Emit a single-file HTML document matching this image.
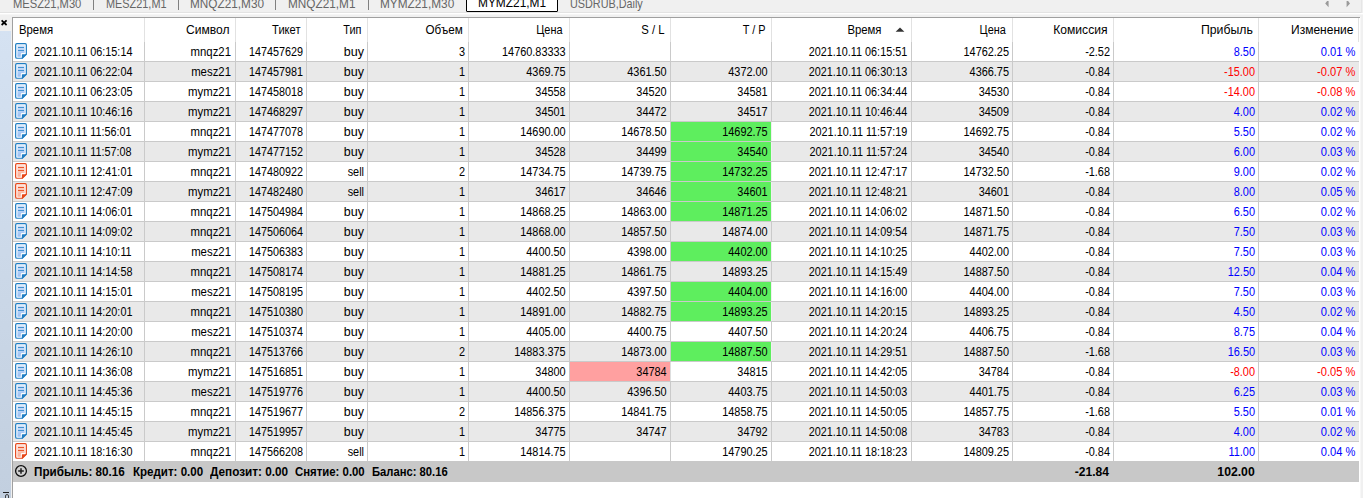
<!DOCTYPE html><html><head><meta charset="utf-8"><title>History</title><style>
html,body{margin:0;padding:0}
body{width:1363px;height:498px;overflow:hidden;background:#f0f0f0;position:relative;font-family:"Liberation Sans",sans-serif;font-size:12.5px;color:#000}
div,span{position:absolute;box-sizing:border-box;white-space:pre}
.tab{top:-3.8px;height:16px;line-height:16px;font-size:12.9px;color:#666;transform-origin:0 50%}
.tsep{top:0;width:1px;height:10px;background:#808080}
.row{left:13px;width:1346px;height:19px}
.c{top:0.5px;height:19px;line-height:19px;text-align:right;transform-origin:100% 50%}
.h{top:18.7px;height:23px;line-height:23px;text-align:right;transform-origin:100% 50%}
.l{text-align:left;transform-origin:0 50%}
.vl{top:42px;width:1px;height:419px;background:#cacaca}
.hl{left:13px;width:1346px;height:1px;background:#cacaca}
.hs{top:18px;width:1px;height:24px;background:#e2e2e2}
.ic{position:absolute;left:1px;top:0}
.sm{top:461.6px;height:21px;line-height:21px;font-weight:bold}
.b{color:#0000ff}.r{color:#ff0000}

</style></head><body>
<div style="left:0;top:12px;width:1362px;height:1px;background:#e3e3e3"></div>
<div style="left:0;top:13px;width:1363px;height:1px;background:#ffffff"></div>
<div style="left:0;top:14px;width:1363px;height:1px;background:#f6f6f6"></div>
<div style="left:1361px;top:0;width:1px;height:13px;background:#e6e6e6"></div>
<span class="tab" style="left:13.2px;transform:scaleX(0.867)">MESZ21,M30</span>
<span class="tab" style="left:105.7px;transform:scaleX(0.845)">MESZ21,M1</span>
<span class="tab" style="left:190.2px;transform:scaleX(0.914)">MNQZ21,M30</span>
<span class="tab" style="left:288.4px;transform:scaleX(0.915)">MNQZ21,M1</span>
<span class="tab" style="left:380.2px;transform:scaleX(0.917)">MYMZ21,M30</span>
<span class="tab" style="left:570.2px;transform:scaleX(0.839)">USDRUB,Daily</span>
<div class="tsep" style="left:93px"></div>
<div class="tsep" style="left:178px"></div>
<div class="tsep" style="left:275px"></div>
<div class="tsep" style="left:368px"></div>
<div style="left:466px;top:-4px;width:92px;height:16px;background:#fff;border:1.4px solid #000;border-radius:1px"></div>
<span class="tab" style="left:477.8px;top:-4.6px;color:#000;transform:scaleX(0.923)">MYMZ21,M1</span>
<svg style="position:absolute;left:1324.4px;top:0.5px" width="30" height="7" viewBox="0 0 30 7"><path d="M4.6 -2 L1.2 2.5 L4.6 6.2 Z M22.6 -2 L26 2.5 L22.6 6.2 Z" fill="#9a9a9a"/></svg>
<div style="left:0;top:31px;width:11px;height:467px;background:linear-gradient(#d5e2f2,#c2cfdf)"></div>
<svg style="position:absolute;left:0;top:18px" width="10" height="10" viewBox="0 0 10 10"><path d="M1.6 2.4 L6.6 7 M6.6 2.4 L1.6 7" stroke="#000" stroke-width="1.7" fill="none"/></svg>
<div style="left:3px;top:492px;width:6px;height:1px;background:#222"></div>
<div style="left:5px;top:494px;width:4px;height:8px;border:1px solid #444;border-radius:2px 2px 0 0"></div>
<div style="left:12px;top:17px;width:1349px;height:481px;background:#a0a0a0"></div>
<div style="left:13px;top:18px;width:1347px;height:480px;background:#fff"></div>
<div style="left:1360px;top:17px;width:1px;height:481px;background:#f7f7f7"></div>
<span class="h l" style="left:19.3px;transform:scaleX(0.9069)">Время</span>
<span class="h" style="left:145px;width:84.5px;transform:scaleX(0.9662)">Символ</span>
<span class="h" style="left:236px;width:64.5px;transform:scaleX(0.8894)">Тикет</span>
<span class="h" style="left:307px;width:54.5px;transform:scaleX(0.8720)">Тип</span>
<span class="h" style="left:368px;width:94.7px;transform:scaleX(0.9330)">Объем</span>
<span class="h" style="left:469px;width:93.5px;transform:scaleX(0.8720)">Цена</span>
<span class="h" style="left:570px;width:94.7px;transform:scaleX(0.9069)">S / L</span>
<span class="h" style="left:671px;width:94.6px;transform:scaleX(0.8720)">T / P</span>
<span class="h" style="left:772px;width:109.5px;transform:scaleX(0.9069)">Время</span>
<svg style="position:absolute;left:895px;top:26px" width="10" height="7" viewBox="0 0 10 7"><path d="M0.6 5.7 L5 1.4 L9.4 5.7 Z" fill="#333"/></svg>
<span class="h" style="left:912px;width:93.8px;transform:scaleX(0.8720)">Цена</span>
<span class="h" style="left:1013px;width:94.5px;transform:scaleX(0.9679)">Комиссия</span>
<span class="h" style="left:1114px;width:138.8px;transform:scaleX(0.9801)">Прибыль</span>
<span class="h" style="left:1259px;width:94.4px;transform:scaleX(0.9592)">Изменение</span>
<div class="hs" style="left:144px"></div>
<div class="hs" style="left:235px"></div>
<div class="hs" style="left:306px"></div>
<div class="hs" style="left:367px"></div>
<div class="hs" style="left:468px"></div>
<div class="hs" style="left:569px"></div>
<div class="hs" style="left:670px"></div>
<div class="hs" style="left:771px"></div>
<div class="hs" style="left:911px"></div>
<div class="hs" style="left:1012px"></div>
<div class="hs" style="left:1113px"></div>
<div class="hs" style="left:1258px"></div>
<div class="hs" style="left:1358px"></div>
<div class="row" style="top:42px;background:#fff">
<svg class="ic" width="14" height="18" viewBox="0 0 14 18"><defs><linearGradient id="gbuy" x1="0" y1="0" x2="0" y2="1"><stop offset="0" stop-color="#d3e3fa"/><stop offset="1" stop-color="#98bef3"/></linearGradient></defs><path d="M2.9 1.65 H11.1 Q12.35 1.65 12.35 2.9 V12.2 L8.3 16.25 H2.9 Q1.65 16.25 1.65 15 V2.9 Q1.65 1.65 2.9 1.65 Z" fill="#fff" stroke="#1f7dc2" stroke-width="1.2"/><path d="M3.4 3.3 H10.7 V11.1 H8.1 Q6.8 11.1 6.8 12.4 V14.7 H3.4 Z" fill="url(#gbuy)"/><path d="M8.5 12.2 H13 L7.9 16.9 V12.8 Q7.9 12.2 8.5 12.2 Z" fill="#1f7dc2"/><path d="M4 5.5 H10 M4 8.5 H10" stroke="#4592cf" stroke-width="1" fill="none"/></svg>
<span class="c l" style="left:21.3px;transform:scaleX(0.8650)">2021.10.11 06:15:14</span>
<span class="c" style="left:132px;width:86px;transform:scaleX(0.9104)">mnqz21</span>
<span class="c" style="left:223px;width:67px;transform:scaleX(0.8633)">147457629</span>
<span class="c" style="left:294px;width:57px;transform:scaleX(1.0002)">buy</span>
<span class="c" style="left:355px;width:97px;transform:scaleX(0.8720)">3</span>
<span class="c" style="left:456px;width:96.7px;transform:scaleX(0.8720)">14760.83333</span>
<span class="c" style="left:759px;width:135.2px;transform:scaleX(0.8650)">2021.10.11 06:15:51</span>
<span class="c" style="left:899px;width:97px;transform:scaleX(0.8720)">14762.25</span>
<span class="c" style="left:1000px;width:97px;transform:scaleX(0.8720)">-2.52</span>
<span class="c b" style="left:1101px;width:141px;transform:scaleX(0.8720)">8.50</span>
<span class="c b" style="left:1246px;width:96.4px;transform:scaleX(0.8894)">0.01 %</span>
</div>
<div class="row" style="top:62px;background:#e9e9e9">
<svg class="ic" width="14" height="18" viewBox="0 0 14 18"><defs><linearGradient id="gbuy" x1="0" y1="0" x2="0" y2="1"><stop offset="0" stop-color="#d3e3fa"/><stop offset="1" stop-color="#98bef3"/></linearGradient></defs><path d="M2.9 1.65 H11.1 Q12.35 1.65 12.35 2.9 V12.2 L8.3 16.25 H2.9 Q1.65 16.25 1.65 15 V2.9 Q1.65 1.65 2.9 1.65 Z" fill="#fff" stroke="#1f7dc2" stroke-width="1.2"/><path d="M3.4 3.3 H10.7 V11.1 H8.1 Q6.8 11.1 6.8 12.4 V14.7 H3.4 Z" fill="url(#gbuy)"/><path d="M8.5 12.2 H13 L7.9 16.9 V12.8 Q7.9 12.2 8.5 12.2 Z" fill="#1f7dc2"/><path d="M4 5.5 H10 M4 8.5 H10" stroke="#4592cf" stroke-width="1" fill="none"/></svg>
<span class="c l" style="left:21.3px;transform:scaleX(0.8650)">2021.10.11 06:22:04</span>
<span class="c" style="left:132px;width:86px;transform:scaleX(0.9104)">mesz21</span>
<span class="c" style="left:223px;width:67px;transform:scaleX(0.8633)">147457981</span>
<span class="c" style="left:294px;width:57px;transform:scaleX(1.0002)">buy</span>
<span class="c" style="left:355px;width:97px;transform:scaleX(0.8720)">1</span>
<span class="c" style="left:456px;width:96.7px;transform:scaleX(0.8720)">4369.75</span>
<span class="c" style="left:557px;width:96.7px;transform:scaleX(0.8720)">4361.50</span>
<span class="c" style="left:658px;width:96.7px;transform:scaleX(0.8720)">4372.00</span>
<span class="c" style="left:759px;width:135.2px;transform:scaleX(0.8650)">2021.10.11 06:30:13</span>
<span class="c" style="left:899px;width:97px;transform:scaleX(0.8720)">4366.75</span>
<span class="c" style="left:1000px;width:97px;transform:scaleX(0.8720)">-0.84</span>
<span class="c r" style="left:1101px;width:141px;transform:scaleX(0.8720)">-15.00</span>
<span class="c r" style="left:1246px;width:96.4px;transform:scaleX(0.8894)">-0.07 %</span>
</div>
<div class="row" style="top:82px;background:#fff">
<svg class="ic" width="14" height="18" viewBox="0 0 14 18"><defs><linearGradient id="gbuy" x1="0" y1="0" x2="0" y2="1"><stop offset="0" stop-color="#d3e3fa"/><stop offset="1" stop-color="#98bef3"/></linearGradient></defs><path d="M2.9 1.65 H11.1 Q12.35 1.65 12.35 2.9 V12.2 L8.3 16.25 H2.9 Q1.65 16.25 1.65 15 V2.9 Q1.65 1.65 2.9 1.65 Z" fill="#fff" stroke="#1f7dc2" stroke-width="1.2"/><path d="M3.4 3.3 H10.7 V11.1 H8.1 Q6.8 11.1 6.8 12.4 V14.7 H3.4 Z" fill="url(#gbuy)"/><path d="M8.5 12.2 H13 L7.9 16.9 V12.8 Q7.9 12.2 8.5 12.2 Z" fill="#1f7dc2"/><path d="M4 5.5 H10 M4 8.5 H10" stroke="#4592cf" stroke-width="1" fill="none"/></svg>
<span class="c l" style="left:21.3px;transform:scaleX(0.8650)">2021.10.11 06:23:05</span>
<span class="c" style="left:132px;width:86px;transform:scaleX(0.9104)">mymz21</span>
<span class="c" style="left:223px;width:67px;transform:scaleX(0.8633)">147458018</span>
<span class="c" style="left:294px;width:57px;transform:scaleX(1.0002)">buy</span>
<span class="c" style="left:355px;width:97px;transform:scaleX(0.8720)">1</span>
<span class="c" style="left:456px;width:96.7px;transform:scaleX(0.8720)">34558</span>
<span class="c" style="left:557px;width:96.7px;transform:scaleX(0.8720)">34520</span>
<span class="c" style="left:658px;width:96.7px;transform:scaleX(0.8720)">34581</span>
<span class="c" style="left:759px;width:135.2px;transform:scaleX(0.8650)">2021.10.11 06:34:44</span>
<span class="c" style="left:899px;width:97px;transform:scaleX(0.8720)">34530</span>
<span class="c" style="left:1000px;width:97px;transform:scaleX(0.8720)">-0.84</span>
<span class="c r" style="left:1101px;width:141px;transform:scaleX(0.8720)">-14.00</span>
<span class="c r" style="left:1246px;width:96.4px;transform:scaleX(0.8894)">-0.08 %</span>
</div>
<div class="row" style="top:102px;background:#e9e9e9">
<svg class="ic" width="14" height="18" viewBox="0 0 14 18"><defs><linearGradient id="gbuy" x1="0" y1="0" x2="0" y2="1"><stop offset="0" stop-color="#d3e3fa"/><stop offset="1" stop-color="#98bef3"/></linearGradient></defs><path d="M2.9 1.65 H11.1 Q12.35 1.65 12.35 2.9 V12.2 L8.3 16.25 H2.9 Q1.65 16.25 1.65 15 V2.9 Q1.65 1.65 2.9 1.65 Z" fill="#fff" stroke="#1f7dc2" stroke-width="1.2"/><path d="M3.4 3.3 H10.7 V11.1 H8.1 Q6.8 11.1 6.8 12.4 V14.7 H3.4 Z" fill="url(#gbuy)"/><path d="M8.5 12.2 H13 L7.9 16.9 V12.8 Q7.9 12.2 8.5 12.2 Z" fill="#1f7dc2"/><path d="M4 5.5 H10 M4 8.5 H10" stroke="#4592cf" stroke-width="1" fill="none"/></svg>
<span class="c l" style="left:21.3px;transform:scaleX(0.8650)">2021.10.11 10:46:16</span>
<span class="c" style="left:132px;width:86px;transform:scaleX(0.9104)">mymz21</span>
<span class="c" style="left:223px;width:67px;transform:scaleX(0.8633)">147468297</span>
<span class="c" style="left:294px;width:57px;transform:scaleX(1.0002)">buy</span>
<span class="c" style="left:355px;width:97px;transform:scaleX(0.8720)">1</span>
<span class="c" style="left:456px;width:96.7px;transform:scaleX(0.8720)">34501</span>
<span class="c" style="left:557px;width:96.7px;transform:scaleX(0.8720)">34472</span>
<span class="c" style="left:658px;width:96.7px;transform:scaleX(0.8720)">34517</span>
<span class="c" style="left:759px;width:135.2px;transform:scaleX(0.8650)">2021.10.11 10:46:44</span>
<span class="c" style="left:899px;width:97px;transform:scaleX(0.8720)">34509</span>
<span class="c" style="left:1000px;width:97px;transform:scaleX(0.8720)">-0.84</span>
<span class="c b" style="left:1101px;width:141px;transform:scaleX(0.8720)">4.00</span>
<span class="c b" style="left:1246px;width:96.4px;transform:scaleX(0.8894)">0.02 %</span>
</div>
<div class="row" style="top:122px;background:#fff">
<svg class="ic" width="14" height="18" viewBox="0 0 14 18"><defs><linearGradient id="gbuy" x1="0" y1="0" x2="0" y2="1"><stop offset="0" stop-color="#d3e3fa"/><stop offset="1" stop-color="#98bef3"/></linearGradient></defs><path d="M2.9 1.65 H11.1 Q12.35 1.65 12.35 2.9 V12.2 L8.3 16.25 H2.9 Q1.65 16.25 1.65 15 V2.9 Q1.65 1.65 2.9 1.65 Z" fill="#fff" stroke="#1f7dc2" stroke-width="1.2"/><path d="M3.4 3.3 H10.7 V11.1 H8.1 Q6.8 11.1 6.8 12.4 V14.7 H3.4 Z" fill="url(#gbuy)"/><path d="M8.5 12.2 H13 L7.9 16.9 V12.8 Q7.9 12.2 8.5 12.2 Z" fill="#1f7dc2"/><path d="M4 5.5 H10 M4 8.5 H10" stroke="#4592cf" stroke-width="1" fill="none"/></svg>
<span class="c l" style="left:21.3px;transform:scaleX(0.8650)">2021.10.11 11:56:01</span>
<span class="c" style="left:132px;width:86px;transform:scaleX(0.9104)">mnqz21</span>
<span class="c" style="left:223px;width:67px;transform:scaleX(0.8633)">147477078</span>
<span class="c" style="left:294px;width:57px;transform:scaleX(1.0002)">buy</span>
<span class="c" style="left:355px;width:97px;transform:scaleX(0.8720)">1</span>
<span class="c" style="left:456px;width:96.7px;transform:scaleX(0.8720)">14690.00</span>
<span class="c" style="left:557px;width:96.7px;transform:scaleX(0.8720)">14678.50</span>
<div style="left:658px;top:0;width:100px;height:19px;background:#5eee5e"></div>
<span class="c" style="left:658px;width:96.7px;transform:scaleX(0.8720)">14692.75</span>
<span class="c" style="left:759px;width:135.2px;transform:scaleX(0.8650)">2021.10.11 11:57:19</span>
<span class="c" style="left:899px;width:97px;transform:scaleX(0.8720)">14692.75</span>
<span class="c" style="left:1000px;width:97px;transform:scaleX(0.8720)">-0.84</span>
<span class="c b" style="left:1101px;width:141px;transform:scaleX(0.8720)">5.50</span>
<span class="c b" style="left:1246px;width:96.4px;transform:scaleX(0.8894)">0.02 %</span>
</div>
<div class="row" style="top:142px;background:#e9e9e9">
<svg class="ic" width="14" height="18" viewBox="0 0 14 18"><defs><linearGradient id="gbuy" x1="0" y1="0" x2="0" y2="1"><stop offset="0" stop-color="#d3e3fa"/><stop offset="1" stop-color="#98bef3"/></linearGradient></defs><path d="M2.9 1.65 H11.1 Q12.35 1.65 12.35 2.9 V12.2 L8.3 16.25 H2.9 Q1.65 16.25 1.65 15 V2.9 Q1.65 1.65 2.9 1.65 Z" fill="#fff" stroke="#1f7dc2" stroke-width="1.2"/><path d="M3.4 3.3 H10.7 V11.1 H8.1 Q6.8 11.1 6.8 12.4 V14.7 H3.4 Z" fill="url(#gbuy)"/><path d="M8.5 12.2 H13 L7.9 16.9 V12.8 Q7.9 12.2 8.5 12.2 Z" fill="#1f7dc2"/><path d="M4 5.5 H10 M4 8.5 H10" stroke="#4592cf" stroke-width="1" fill="none"/></svg>
<span class="c l" style="left:21.3px;transform:scaleX(0.8650)">2021.10.11 11:57:08</span>
<span class="c" style="left:132px;width:86px;transform:scaleX(0.9104)">mymz21</span>
<span class="c" style="left:223px;width:67px;transform:scaleX(0.8633)">147477152</span>
<span class="c" style="left:294px;width:57px;transform:scaleX(1.0002)">buy</span>
<span class="c" style="left:355px;width:97px;transform:scaleX(0.8720)">1</span>
<span class="c" style="left:456px;width:96.7px;transform:scaleX(0.8720)">34528</span>
<span class="c" style="left:557px;width:96.7px;transform:scaleX(0.8720)">34499</span>
<div style="left:658px;top:0;width:100px;height:19px;background:#5eee5e"></div>
<span class="c" style="left:658px;width:96.7px;transform:scaleX(0.8720)">34540</span>
<span class="c" style="left:759px;width:135.2px;transform:scaleX(0.8650)">2021.10.11 11:57:24</span>
<span class="c" style="left:899px;width:97px;transform:scaleX(0.8720)">34540</span>
<span class="c" style="left:1000px;width:97px;transform:scaleX(0.8720)">-0.84</span>
<span class="c b" style="left:1101px;width:141px;transform:scaleX(0.8720)">6.00</span>
<span class="c b" style="left:1246px;width:96.4px;transform:scaleX(0.8894)">0.03 %</span>
</div>
<div class="row" style="top:162px;background:#fff">
<svg class="ic" width="14" height="18" viewBox="0 0 14 18"><defs><linearGradient id="gsell" x1="0" y1="0" x2="0" y2="1"><stop offset="0" stop-color="#fdd9cd"/><stop offset="1" stop-color="#f8ad96"/></linearGradient></defs><path d="M2.9 1.65 H11.1 Q12.35 1.65 12.35 2.9 V12.2 L8.3 16.25 H2.9 Q1.65 16.25 1.65 15 V2.9 Q1.65 1.65 2.9 1.65 Z" fill="#fff" stroke="#e64617" stroke-width="1.2"/><path d="M3.4 3.3 H10.7 V11.1 H8.1 Q6.8 11.1 6.8 12.4 V14.7 H3.4 Z" fill="url(#gsell)"/><path d="M8.5 12.2 H13 L7.9 16.9 V12.8 Q7.9 12.2 8.5 12.2 Z" fill="#e64617"/><path d="M4 5.5 H10 M4 8.5 H10" stroke="#e9582c" stroke-width="1" fill="none"/></svg>
<span class="c l" style="left:21.3px;transform:scaleX(0.8650)">2021.10.11 12:41:01</span>
<span class="c" style="left:132px;width:86px;transform:scaleX(0.9104)">mnqz21</span>
<span class="c" style="left:223px;width:67px;transform:scaleX(0.8633)">147480922</span>
<span class="c" style="left:294px;width:57px;transform:scaleX(0.8720)">sell</span>
<span class="c" style="left:355px;width:97px;transform:scaleX(0.8720)">2</span>
<span class="c" style="left:456px;width:96.7px;transform:scaleX(0.8720)">14734.75</span>
<span class="c" style="left:557px;width:96.7px;transform:scaleX(0.8720)">14739.75</span>
<div style="left:658px;top:0;width:100px;height:19px;background:#5eee5e"></div>
<span class="c" style="left:658px;width:96.7px;transform:scaleX(0.8720)">14732.25</span>
<span class="c" style="left:759px;width:135.2px;transform:scaleX(0.8650)">2021.10.11 12:47:17</span>
<span class="c" style="left:899px;width:97px;transform:scaleX(0.8720)">14732.50</span>
<span class="c" style="left:1000px;width:97px;transform:scaleX(0.8720)">-1.68</span>
<span class="c b" style="left:1101px;width:141px;transform:scaleX(0.8720)">9.00</span>
<span class="c b" style="left:1246px;width:96.4px;transform:scaleX(0.8894)">0.02 %</span>
</div>
<div class="row" style="top:182px;background:#e9e9e9">
<svg class="ic" width="14" height="18" viewBox="0 0 14 18"><defs><linearGradient id="gsell" x1="0" y1="0" x2="0" y2="1"><stop offset="0" stop-color="#fdd9cd"/><stop offset="1" stop-color="#f8ad96"/></linearGradient></defs><path d="M2.9 1.65 H11.1 Q12.35 1.65 12.35 2.9 V12.2 L8.3 16.25 H2.9 Q1.65 16.25 1.65 15 V2.9 Q1.65 1.65 2.9 1.65 Z" fill="#fff" stroke="#e64617" stroke-width="1.2"/><path d="M3.4 3.3 H10.7 V11.1 H8.1 Q6.8 11.1 6.8 12.4 V14.7 H3.4 Z" fill="url(#gsell)"/><path d="M8.5 12.2 H13 L7.9 16.9 V12.8 Q7.9 12.2 8.5 12.2 Z" fill="#e64617"/><path d="M4 5.5 H10 M4 8.5 H10" stroke="#e9582c" stroke-width="1" fill="none"/></svg>
<span class="c l" style="left:21.3px;transform:scaleX(0.8650)">2021.10.11 12:47:09</span>
<span class="c" style="left:132px;width:86px;transform:scaleX(0.9104)">mymz21</span>
<span class="c" style="left:223px;width:67px;transform:scaleX(0.8633)">147482480</span>
<span class="c" style="left:294px;width:57px;transform:scaleX(0.8720)">sell</span>
<span class="c" style="left:355px;width:97px;transform:scaleX(0.8720)">1</span>
<span class="c" style="left:456px;width:96.7px;transform:scaleX(0.8720)">34617</span>
<span class="c" style="left:557px;width:96.7px;transform:scaleX(0.8720)">34646</span>
<div style="left:658px;top:0;width:100px;height:19px;background:#5eee5e"></div>
<span class="c" style="left:658px;width:96.7px;transform:scaleX(0.8720)">34601</span>
<span class="c" style="left:759px;width:135.2px;transform:scaleX(0.8650)">2021.10.11 12:48:21</span>
<span class="c" style="left:899px;width:97px;transform:scaleX(0.8720)">34601</span>
<span class="c" style="left:1000px;width:97px;transform:scaleX(0.8720)">-0.84</span>
<span class="c b" style="left:1101px;width:141px;transform:scaleX(0.8720)">8.00</span>
<span class="c b" style="left:1246px;width:96.4px;transform:scaleX(0.8894)">0.05 %</span>
</div>
<div class="row" style="top:202px;background:#fff">
<svg class="ic" width="14" height="18" viewBox="0 0 14 18"><defs><linearGradient id="gbuy" x1="0" y1="0" x2="0" y2="1"><stop offset="0" stop-color="#d3e3fa"/><stop offset="1" stop-color="#98bef3"/></linearGradient></defs><path d="M2.9 1.65 H11.1 Q12.35 1.65 12.35 2.9 V12.2 L8.3 16.25 H2.9 Q1.65 16.25 1.65 15 V2.9 Q1.65 1.65 2.9 1.65 Z" fill="#fff" stroke="#1f7dc2" stroke-width="1.2"/><path d="M3.4 3.3 H10.7 V11.1 H8.1 Q6.8 11.1 6.8 12.4 V14.7 H3.4 Z" fill="url(#gbuy)"/><path d="M8.5 12.2 H13 L7.9 16.9 V12.8 Q7.9 12.2 8.5 12.2 Z" fill="#1f7dc2"/><path d="M4 5.5 H10 M4 8.5 H10" stroke="#4592cf" stroke-width="1" fill="none"/></svg>
<span class="c l" style="left:21.3px;transform:scaleX(0.8650)">2021.10.11 14:06:01</span>
<span class="c" style="left:132px;width:86px;transform:scaleX(0.9104)">mnqz21</span>
<span class="c" style="left:223px;width:67px;transform:scaleX(0.8633)">147504984</span>
<span class="c" style="left:294px;width:57px;transform:scaleX(1.0002)">buy</span>
<span class="c" style="left:355px;width:97px;transform:scaleX(0.8720)">1</span>
<span class="c" style="left:456px;width:96.7px;transform:scaleX(0.8720)">14868.25</span>
<span class="c" style="left:557px;width:96.7px;transform:scaleX(0.8720)">14863.00</span>
<div style="left:658px;top:0;width:100px;height:19px;background:#5eee5e"></div>
<span class="c" style="left:658px;width:96.7px;transform:scaleX(0.8720)">14871.25</span>
<span class="c" style="left:759px;width:135.2px;transform:scaleX(0.8650)">2021.10.11 14:06:02</span>
<span class="c" style="left:899px;width:97px;transform:scaleX(0.8720)">14871.50</span>
<span class="c" style="left:1000px;width:97px;transform:scaleX(0.8720)">-0.84</span>
<span class="c b" style="left:1101px;width:141px;transform:scaleX(0.8720)">6.50</span>
<span class="c b" style="left:1246px;width:96.4px;transform:scaleX(0.8894)">0.02 %</span>
</div>
<div class="row" style="top:222px;background:#e9e9e9">
<svg class="ic" width="14" height="18" viewBox="0 0 14 18"><defs><linearGradient id="gbuy" x1="0" y1="0" x2="0" y2="1"><stop offset="0" stop-color="#d3e3fa"/><stop offset="1" stop-color="#98bef3"/></linearGradient></defs><path d="M2.9 1.65 H11.1 Q12.35 1.65 12.35 2.9 V12.2 L8.3 16.25 H2.9 Q1.65 16.25 1.65 15 V2.9 Q1.65 1.65 2.9 1.65 Z" fill="#fff" stroke="#1f7dc2" stroke-width="1.2"/><path d="M3.4 3.3 H10.7 V11.1 H8.1 Q6.8 11.1 6.8 12.4 V14.7 H3.4 Z" fill="url(#gbuy)"/><path d="M8.5 12.2 H13 L7.9 16.9 V12.8 Q7.9 12.2 8.5 12.2 Z" fill="#1f7dc2"/><path d="M4 5.5 H10 M4 8.5 H10" stroke="#4592cf" stroke-width="1" fill="none"/></svg>
<span class="c l" style="left:21.3px;transform:scaleX(0.8650)">2021.10.11 14:09:02</span>
<span class="c" style="left:132px;width:86px;transform:scaleX(0.9104)">mnqz21</span>
<span class="c" style="left:223px;width:67px;transform:scaleX(0.8633)">147506064</span>
<span class="c" style="left:294px;width:57px;transform:scaleX(1.0002)">buy</span>
<span class="c" style="left:355px;width:97px;transform:scaleX(0.8720)">1</span>
<span class="c" style="left:456px;width:96.7px;transform:scaleX(0.8720)">14868.00</span>
<span class="c" style="left:557px;width:96.7px;transform:scaleX(0.8720)">14857.50</span>
<span class="c" style="left:658px;width:96.7px;transform:scaleX(0.8720)">14874.00</span>
<span class="c" style="left:759px;width:135.2px;transform:scaleX(0.8650)">2021.10.11 14:09:54</span>
<span class="c" style="left:899px;width:97px;transform:scaleX(0.8720)">14871.75</span>
<span class="c" style="left:1000px;width:97px;transform:scaleX(0.8720)">-0.84</span>
<span class="c b" style="left:1101px;width:141px;transform:scaleX(0.8720)">7.50</span>
<span class="c b" style="left:1246px;width:96.4px;transform:scaleX(0.8894)">0.03 %</span>
</div>
<div class="row" style="top:242px;background:#fff">
<svg class="ic" width="14" height="18" viewBox="0 0 14 18"><defs><linearGradient id="gbuy" x1="0" y1="0" x2="0" y2="1"><stop offset="0" stop-color="#d3e3fa"/><stop offset="1" stop-color="#98bef3"/></linearGradient></defs><path d="M2.9 1.65 H11.1 Q12.35 1.65 12.35 2.9 V12.2 L8.3 16.25 H2.9 Q1.65 16.25 1.65 15 V2.9 Q1.65 1.65 2.9 1.65 Z" fill="#fff" stroke="#1f7dc2" stroke-width="1.2"/><path d="M3.4 3.3 H10.7 V11.1 H8.1 Q6.8 11.1 6.8 12.4 V14.7 H3.4 Z" fill="url(#gbuy)"/><path d="M8.5 12.2 H13 L7.9 16.9 V12.8 Q7.9 12.2 8.5 12.2 Z" fill="#1f7dc2"/><path d="M4 5.5 H10 M4 8.5 H10" stroke="#4592cf" stroke-width="1" fill="none"/></svg>
<span class="c l" style="left:21.3px;transform:scaleX(0.8650)">2021.10.11 14:10:11</span>
<span class="c" style="left:132px;width:86px;transform:scaleX(0.9104)">mesz21</span>
<span class="c" style="left:223px;width:67px;transform:scaleX(0.8633)">147506383</span>
<span class="c" style="left:294px;width:57px;transform:scaleX(1.0002)">buy</span>
<span class="c" style="left:355px;width:97px;transform:scaleX(0.8720)">1</span>
<span class="c" style="left:456px;width:96.7px;transform:scaleX(0.8720)">4400.50</span>
<span class="c" style="left:557px;width:96.7px;transform:scaleX(0.8720)">4398.00</span>
<div style="left:658px;top:0;width:100px;height:19px;background:#5eee5e"></div>
<span class="c" style="left:658px;width:96.7px;transform:scaleX(0.8720)">4402.00</span>
<span class="c" style="left:759px;width:135.2px;transform:scaleX(0.8650)">2021.10.11 14:10:25</span>
<span class="c" style="left:899px;width:97px;transform:scaleX(0.8720)">4402.00</span>
<span class="c" style="left:1000px;width:97px;transform:scaleX(0.8720)">-0.84</span>
<span class="c b" style="left:1101px;width:141px;transform:scaleX(0.8720)">7.50</span>
<span class="c b" style="left:1246px;width:96.4px;transform:scaleX(0.8894)">0.03 %</span>
</div>
<div class="row" style="top:262px;background:#e9e9e9">
<svg class="ic" width="14" height="18" viewBox="0 0 14 18"><defs><linearGradient id="gbuy" x1="0" y1="0" x2="0" y2="1"><stop offset="0" stop-color="#d3e3fa"/><stop offset="1" stop-color="#98bef3"/></linearGradient></defs><path d="M2.9 1.65 H11.1 Q12.35 1.65 12.35 2.9 V12.2 L8.3 16.25 H2.9 Q1.65 16.25 1.65 15 V2.9 Q1.65 1.65 2.9 1.65 Z" fill="#fff" stroke="#1f7dc2" stroke-width="1.2"/><path d="M3.4 3.3 H10.7 V11.1 H8.1 Q6.8 11.1 6.8 12.4 V14.7 H3.4 Z" fill="url(#gbuy)"/><path d="M8.5 12.2 H13 L7.9 16.9 V12.8 Q7.9 12.2 8.5 12.2 Z" fill="#1f7dc2"/><path d="M4 5.5 H10 M4 8.5 H10" stroke="#4592cf" stroke-width="1" fill="none"/></svg>
<span class="c l" style="left:21.3px;transform:scaleX(0.8650)">2021.10.11 14:14:58</span>
<span class="c" style="left:132px;width:86px;transform:scaleX(0.9104)">mnqz21</span>
<span class="c" style="left:223px;width:67px;transform:scaleX(0.8633)">147508174</span>
<span class="c" style="left:294px;width:57px;transform:scaleX(1.0002)">buy</span>
<span class="c" style="left:355px;width:97px;transform:scaleX(0.8720)">1</span>
<span class="c" style="left:456px;width:96.7px;transform:scaleX(0.8720)">14881.25</span>
<span class="c" style="left:557px;width:96.7px;transform:scaleX(0.8720)">14861.75</span>
<span class="c" style="left:658px;width:96.7px;transform:scaleX(0.8720)">14893.25</span>
<span class="c" style="left:759px;width:135.2px;transform:scaleX(0.8650)">2021.10.11 14:15:49</span>
<span class="c" style="left:899px;width:97px;transform:scaleX(0.8720)">14887.50</span>
<span class="c" style="left:1000px;width:97px;transform:scaleX(0.8720)">-0.84</span>
<span class="c b" style="left:1101px;width:141px;transform:scaleX(0.8720)">12.50</span>
<span class="c b" style="left:1246px;width:96.4px;transform:scaleX(0.8894)">0.04 %</span>
</div>
<div class="row" style="top:282px;background:#fff">
<svg class="ic" width="14" height="18" viewBox="0 0 14 18"><defs><linearGradient id="gbuy" x1="0" y1="0" x2="0" y2="1"><stop offset="0" stop-color="#d3e3fa"/><stop offset="1" stop-color="#98bef3"/></linearGradient></defs><path d="M2.9 1.65 H11.1 Q12.35 1.65 12.35 2.9 V12.2 L8.3 16.25 H2.9 Q1.65 16.25 1.65 15 V2.9 Q1.65 1.65 2.9 1.65 Z" fill="#fff" stroke="#1f7dc2" stroke-width="1.2"/><path d="M3.4 3.3 H10.7 V11.1 H8.1 Q6.8 11.1 6.8 12.4 V14.7 H3.4 Z" fill="url(#gbuy)"/><path d="M8.5 12.2 H13 L7.9 16.9 V12.8 Q7.9 12.2 8.5 12.2 Z" fill="#1f7dc2"/><path d="M4 5.5 H10 M4 8.5 H10" stroke="#4592cf" stroke-width="1" fill="none"/></svg>
<span class="c l" style="left:21.3px;transform:scaleX(0.8650)">2021.10.11 14:15:01</span>
<span class="c" style="left:132px;width:86px;transform:scaleX(0.9104)">mesz21</span>
<span class="c" style="left:223px;width:67px;transform:scaleX(0.8633)">147508195</span>
<span class="c" style="left:294px;width:57px;transform:scaleX(1.0002)">buy</span>
<span class="c" style="left:355px;width:97px;transform:scaleX(0.8720)">1</span>
<span class="c" style="left:456px;width:96.7px;transform:scaleX(0.8720)">4402.50</span>
<span class="c" style="left:557px;width:96.7px;transform:scaleX(0.8720)">4397.50</span>
<div style="left:658px;top:0;width:100px;height:19px;background:#5eee5e"></div>
<span class="c" style="left:658px;width:96.7px;transform:scaleX(0.8720)">4404.00</span>
<span class="c" style="left:759px;width:135.2px;transform:scaleX(0.8650)">2021.10.11 14:16:00</span>
<span class="c" style="left:899px;width:97px;transform:scaleX(0.8720)">4404.00</span>
<span class="c" style="left:1000px;width:97px;transform:scaleX(0.8720)">-0.84</span>
<span class="c b" style="left:1101px;width:141px;transform:scaleX(0.8720)">7.50</span>
<span class="c b" style="left:1246px;width:96.4px;transform:scaleX(0.8894)">0.03 %</span>
</div>
<div class="row" style="top:302px;background:#e9e9e9">
<svg class="ic" width="14" height="18" viewBox="0 0 14 18"><defs><linearGradient id="gbuy" x1="0" y1="0" x2="0" y2="1"><stop offset="0" stop-color="#d3e3fa"/><stop offset="1" stop-color="#98bef3"/></linearGradient></defs><path d="M2.9 1.65 H11.1 Q12.35 1.65 12.35 2.9 V12.2 L8.3 16.25 H2.9 Q1.65 16.25 1.65 15 V2.9 Q1.65 1.65 2.9 1.65 Z" fill="#fff" stroke="#1f7dc2" stroke-width="1.2"/><path d="M3.4 3.3 H10.7 V11.1 H8.1 Q6.8 11.1 6.8 12.4 V14.7 H3.4 Z" fill="url(#gbuy)"/><path d="M8.5 12.2 H13 L7.9 16.9 V12.8 Q7.9 12.2 8.5 12.2 Z" fill="#1f7dc2"/><path d="M4 5.5 H10 M4 8.5 H10" stroke="#4592cf" stroke-width="1" fill="none"/></svg>
<span class="c l" style="left:21.3px;transform:scaleX(0.8650)">2021.10.11 14:20:01</span>
<span class="c" style="left:132px;width:86px;transform:scaleX(0.9104)">mnqz21</span>
<span class="c" style="left:223px;width:67px;transform:scaleX(0.8633)">147510380</span>
<span class="c" style="left:294px;width:57px;transform:scaleX(1.0002)">buy</span>
<span class="c" style="left:355px;width:97px;transform:scaleX(0.8720)">1</span>
<span class="c" style="left:456px;width:96.7px;transform:scaleX(0.8720)">14891.00</span>
<span class="c" style="left:557px;width:96.7px;transform:scaleX(0.8720)">14882.75</span>
<div style="left:658px;top:0;width:100px;height:19px;background:#5eee5e"></div>
<span class="c" style="left:658px;width:96.7px;transform:scaleX(0.8720)">14893.25</span>
<span class="c" style="left:759px;width:135.2px;transform:scaleX(0.8650)">2021.10.11 14:20:15</span>
<span class="c" style="left:899px;width:97px;transform:scaleX(0.8720)">14893.25</span>
<span class="c" style="left:1000px;width:97px;transform:scaleX(0.8720)">-0.84</span>
<span class="c b" style="left:1101px;width:141px;transform:scaleX(0.8720)">4.50</span>
<span class="c b" style="left:1246px;width:96.4px;transform:scaleX(0.8894)">0.02 %</span>
</div>
<div class="row" style="top:322px;background:#fff">
<svg class="ic" width="14" height="18" viewBox="0 0 14 18"><defs><linearGradient id="gbuy" x1="0" y1="0" x2="0" y2="1"><stop offset="0" stop-color="#d3e3fa"/><stop offset="1" stop-color="#98bef3"/></linearGradient></defs><path d="M2.9 1.65 H11.1 Q12.35 1.65 12.35 2.9 V12.2 L8.3 16.25 H2.9 Q1.65 16.25 1.65 15 V2.9 Q1.65 1.65 2.9 1.65 Z" fill="#fff" stroke="#1f7dc2" stroke-width="1.2"/><path d="M3.4 3.3 H10.7 V11.1 H8.1 Q6.8 11.1 6.8 12.4 V14.7 H3.4 Z" fill="url(#gbuy)"/><path d="M8.5 12.2 H13 L7.9 16.9 V12.8 Q7.9 12.2 8.5 12.2 Z" fill="#1f7dc2"/><path d="M4 5.5 H10 M4 8.5 H10" stroke="#4592cf" stroke-width="1" fill="none"/></svg>
<span class="c l" style="left:21.3px;transform:scaleX(0.8650)">2021.10.11 14:20:00</span>
<span class="c" style="left:132px;width:86px;transform:scaleX(0.9104)">mesz21</span>
<span class="c" style="left:223px;width:67px;transform:scaleX(0.8633)">147510374</span>
<span class="c" style="left:294px;width:57px;transform:scaleX(1.0002)">buy</span>
<span class="c" style="left:355px;width:97px;transform:scaleX(0.8720)">1</span>
<span class="c" style="left:456px;width:96.7px;transform:scaleX(0.8720)">4405.00</span>
<span class="c" style="left:557px;width:96.7px;transform:scaleX(0.8720)">4400.75</span>
<span class="c" style="left:658px;width:96.7px;transform:scaleX(0.8720)">4407.50</span>
<span class="c" style="left:759px;width:135.2px;transform:scaleX(0.8650)">2021.10.11 14:20:24</span>
<span class="c" style="left:899px;width:97px;transform:scaleX(0.8720)">4406.75</span>
<span class="c" style="left:1000px;width:97px;transform:scaleX(0.8720)">-0.84</span>
<span class="c b" style="left:1101px;width:141px;transform:scaleX(0.8720)">8.75</span>
<span class="c b" style="left:1246px;width:96.4px;transform:scaleX(0.8894)">0.04 %</span>
</div>
<div class="row" style="top:342px;background:#e9e9e9">
<svg class="ic" width="14" height="18" viewBox="0 0 14 18"><defs><linearGradient id="gbuy" x1="0" y1="0" x2="0" y2="1"><stop offset="0" stop-color="#d3e3fa"/><stop offset="1" stop-color="#98bef3"/></linearGradient></defs><path d="M2.9 1.65 H11.1 Q12.35 1.65 12.35 2.9 V12.2 L8.3 16.25 H2.9 Q1.65 16.25 1.65 15 V2.9 Q1.65 1.65 2.9 1.65 Z" fill="#fff" stroke="#1f7dc2" stroke-width="1.2"/><path d="M3.4 3.3 H10.7 V11.1 H8.1 Q6.8 11.1 6.8 12.4 V14.7 H3.4 Z" fill="url(#gbuy)"/><path d="M8.5 12.2 H13 L7.9 16.9 V12.8 Q7.9 12.2 8.5 12.2 Z" fill="#1f7dc2"/><path d="M4 5.5 H10 M4 8.5 H10" stroke="#4592cf" stroke-width="1" fill="none"/></svg>
<span class="c l" style="left:21.3px;transform:scaleX(0.8650)">2021.10.11 14:26:10</span>
<span class="c" style="left:132px;width:86px;transform:scaleX(0.9104)">mnqz21</span>
<span class="c" style="left:223px;width:67px;transform:scaleX(0.8633)">147513766</span>
<span class="c" style="left:294px;width:57px;transform:scaleX(1.0002)">buy</span>
<span class="c" style="left:355px;width:97px;transform:scaleX(0.8720)">2</span>
<span class="c" style="left:456px;width:96.7px;transform:scaleX(0.8720)">14883.375</span>
<span class="c" style="left:557px;width:96.7px;transform:scaleX(0.8720)">14873.00</span>
<div style="left:658px;top:0;width:100px;height:19px;background:#5eee5e"></div>
<span class="c" style="left:658px;width:96.7px;transform:scaleX(0.8720)">14887.50</span>
<span class="c" style="left:759px;width:135.2px;transform:scaleX(0.8650)">2021.10.11 14:29:51</span>
<span class="c" style="left:899px;width:97px;transform:scaleX(0.8720)">14887.50</span>
<span class="c" style="left:1000px;width:97px;transform:scaleX(0.8720)">-1.68</span>
<span class="c b" style="left:1101px;width:141px;transform:scaleX(0.8720)">16.50</span>
<span class="c b" style="left:1246px;width:96.4px;transform:scaleX(0.8894)">0.03 %</span>
</div>
<div class="row" style="top:362px;background:#fff">
<svg class="ic" width="14" height="18" viewBox="0 0 14 18"><defs><linearGradient id="gbuy" x1="0" y1="0" x2="0" y2="1"><stop offset="0" stop-color="#d3e3fa"/><stop offset="1" stop-color="#98bef3"/></linearGradient></defs><path d="M2.9 1.65 H11.1 Q12.35 1.65 12.35 2.9 V12.2 L8.3 16.25 H2.9 Q1.65 16.25 1.65 15 V2.9 Q1.65 1.65 2.9 1.65 Z" fill="#fff" stroke="#1f7dc2" stroke-width="1.2"/><path d="M3.4 3.3 H10.7 V11.1 H8.1 Q6.8 11.1 6.8 12.4 V14.7 H3.4 Z" fill="url(#gbuy)"/><path d="M8.5 12.2 H13 L7.9 16.9 V12.8 Q7.9 12.2 8.5 12.2 Z" fill="#1f7dc2"/><path d="M4 5.5 H10 M4 8.5 H10" stroke="#4592cf" stroke-width="1" fill="none"/></svg>
<span class="c l" style="left:21.3px;transform:scaleX(0.8650)">2021.10.11 14:36:08</span>
<span class="c" style="left:132px;width:86px;transform:scaleX(0.9104)">mymz21</span>
<span class="c" style="left:223px;width:67px;transform:scaleX(0.8633)">147516851</span>
<span class="c" style="left:294px;width:57px;transform:scaleX(1.0002)">buy</span>
<span class="c" style="left:355px;width:97px;transform:scaleX(0.8720)">1</span>
<span class="c" style="left:456px;width:96.7px;transform:scaleX(0.8720)">34800</span>
<div style="left:557px;top:0;width:100px;height:19px;background:#ffa0a0"></div>
<span class="c" style="left:557px;width:96.7px;transform:scaleX(0.8720)">34784</span>
<span class="c" style="left:658px;width:96.7px;transform:scaleX(0.8720)">34815</span>
<span class="c" style="left:759px;width:135.2px;transform:scaleX(0.8650)">2021.10.11 14:42:05</span>
<span class="c" style="left:899px;width:97px;transform:scaleX(0.8720)">34784</span>
<span class="c" style="left:1000px;width:97px;transform:scaleX(0.8720)">-0.84</span>
<span class="c r" style="left:1101px;width:141px;transform:scaleX(0.8720)">-8.00</span>
<span class="c r" style="left:1246px;width:96.4px;transform:scaleX(0.8894)">-0.05 %</span>
</div>
<div class="row" style="top:382px;background:#e9e9e9">
<svg class="ic" width="14" height="18" viewBox="0 0 14 18"><defs><linearGradient id="gbuy" x1="0" y1="0" x2="0" y2="1"><stop offset="0" stop-color="#d3e3fa"/><stop offset="1" stop-color="#98bef3"/></linearGradient></defs><path d="M2.9 1.65 H11.1 Q12.35 1.65 12.35 2.9 V12.2 L8.3 16.25 H2.9 Q1.65 16.25 1.65 15 V2.9 Q1.65 1.65 2.9 1.65 Z" fill="#fff" stroke="#1f7dc2" stroke-width="1.2"/><path d="M3.4 3.3 H10.7 V11.1 H8.1 Q6.8 11.1 6.8 12.4 V14.7 H3.4 Z" fill="url(#gbuy)"/><path d="M8.5 12.2 H13 L7.9 16.9 V12.8 Q7.9 12.2 8.5 12.2 Z" fill="#1f7dc2"/><path d="M4 5.5 H10 M4 8.5 H10" stroke="#4592cf" stroke-width="1" fill="none"/></svg>
<span class="c l" style="left:21.3px;transform:scaleX(0.8650)">2021.10.11 14:45:36</span>
<span class="c" style="left:132px;width:86px;transform:scaleX(0.9104)">mesz21</span>
<span class="c" style="left:223px;width:67px;transform:scaleX(0.8633)">147519776</span>
<span class="c" style="left:294px;width:57px;transform:scaleX(1.0002)">buy</span>
<span class="c" style="left:355px;width:97px;transform:scaleX(0.8720)">1</span>
<span class="c" style="left:456px;width:96.7px;transform:scaleX(0.8720)">4400.50</span>
<span class="c" style="left:557px;width:96.7px;transform:scaleX(0.8720)">4396.50</span>
<span class="c" style="left:658px;width:96.7px;transform:scaleX(0.8720)">4403.75</span>
<span class="c" style="left:759px;width:135.2px;transform:scaleX(0.8650)">2021.10.11 14:50:03</span>
<span class="c" style="left:899px;width:97px;transform:scaleX(0.8720)">4401.75</span>
<span class="c" style="left:1000px;width:97px;transform:scaleX(0.8720)">-0.84</span>
<span class="c b" style="left:1101px;width:141px;transform:scaleX(0.8720)">6.25</span>
<span class="c b" style="left:1246px;width:96.4px;transform:scaleX(0.8894)">0.03 %</span>
</div>
<div class="row" style="top:402px;background:#fff">
<svg class="ic" width="14" height="18" viewBox="0 0 14 18"><defs><linearGradient id="gbuy" x1="0" y1="0" x2="0" y2="1"><stop offset="0" stop-color="#d3e3fa"/><stop offset="1" stop-color="#98bef3"/></linearGradient></defs><path d="M2.9 1.65 H11.1 Q12.35 1.65 12.35 2.9 V12.2 L8.3 16.25 H2.9 Q1.65 16.25 1.65 15 V2.9 Q1.65 1.65 2.9 1.65 Z" fill="#fff" stroke="#1f7dc2" stroke-width="1.2"/><path d="M3.4 3.3 H10.7 V11.1 H8.1 Q6.8 11.1 6.8 12.4 V14.7 H3.4 Z" fill="url(#gbuy)"/><path d="M8.5 12.2 H13 L7.9 16.9 V12.8 Q7.9 12.2 8.5 12.2 Z" fill="#1f7dc2"/><path d="M4 5.5 H10 M4 8.5 H10" stroke="#4592cf" stroke-width="1" fill="none"/></svg>
<span class="c l" style="left:21.3px;transform:scaleX(0.8650)">2021.10.11 14:45:15</span>
<span class="c" style="left:132px;width:86px;transform:scaleX(0.9104)">mnqz21</span>
<span class="c" style="left:223px;width:67px;transform:scaleX(0.8633)">147519677</span>
<span class="c" style="left:294px;width:57px;transform:scaleX(1.0002)">buy</span>
<span class="c" style="left:355px;width:97px;transform:scaleX(0.8720)">2</span>
<span class="c" style="left:456px;width:96.7px;transform:scaleX(0.8720)">14856.375</span>
<span class="c" style="left:557px;width:96.7px;transform:scaleX(0.8720)">14841.75</span>
<span class="c" style="left:658px;width:96.7px;transform:scaleX(0.8720)">14858.75</span>
<span class="c" style="left:759px;width:135.2px;transform:scaleX(0.8650)">2021.10.11 14:50:05</span>
<span class="c" style="left:899px;width:97px;transform:scaleX(0.8720)">14857.75</span>
<span class="c" style="left:1000px;width:97px;transform:scaleX(0.8720)">-1.68</span>
<span class="c b" style="left:1101px;width:141px;transform:scaleX(0.8720)">5.50</span>
<span class="c b" style="left:1246px;width:96.4px;transform:scaleX(0.8894)">0.01 %</span>
</div>
<div class="row" style="top:422px;background:#e9e9e9">
<svg class="ic" width="14" height="18" viewBox="0 0 14 18"><defs><linearGradient id="gbuy" x1="0" y1="0" x2="0" y2="1"><stop offset="0" stop-color="#d3e3fa"/><stop offset="1" stop-color="#98bef3"/></linearGradient></defs><path d="M2.9 1.65 H11.1 Q12.35 1.65 12.35 2.9 V12.2 L8.3 16.25 H2.9 Q1.65 16.25 1.65 15 V2.9 Q1.65 1.65 2.9 1.65 Z" fill="#fff" stroke="#1f7dc2" stroke-width="1.2"/><path d="M3.4 3.3 H10.7 V11.1 H8.1 Q6.8 11.1 6.8 12.4 V14.7 H3.4 Z" fill="url(#gbuy)"/><path d="M8.5 12.2 H13 L7.9 16.9 V12.8 Q7.9 12.2 8.5 12.2 Z" fill="#1f7dc2"/><path d="M4 5.5 H10 M4 8.5 H10" stroke="#4592cf" stroke-width="1" fill="none"/></svg>
<span class="c l" style="left:21.3px;transform:scaleX(0.8650)">2021.10.11 14:45:45</span>
<span class="c" style="left:132px;width:86px;transform:scaleX(0.9104)">mymz21</span>
<span class="c" style="left:223px;width:67px;transform:scaleX(0.8633)">147519957</span>
<span class="c" style="left:294px;width:57px;transform:scaleX(1.0002)">buy</span>
<span class="c" style="left:355px;width:97px;transform:scaleX(0.8720)">1</span>
<span class="c" style="left:456px;width:96.7px;transform:scaleX(0.8720)">34775</span>
<span class="c" style="left:557px;width:96.7px;transform:scaleX(0.8720)">34747</span>
<span class="c" style="left:658px;width:96.7px;transform:scaleX(0.8720)">34792</span>
<span class="c" style="left:759px;width:135.2px;transform:scaleX(0.8650)">2021.10.11 14:50:08</span>
<span class="c" style="left:899px;width:97px;transform:scaleX(0.8720)">34783</span>
<span class="c" style="left:1000px;width:97px;transform:scaleX(0.8720)">-0.84</span>
<span class="c b" style="left:1101px;width:141px;transform:scaleX(0.8720)">4.00</span>
<span class="c b" style="left:1246px;width:96.4px;transform:scaleX(0.8894)">0.02 %</span>
</div>
<div class="row" style="top:442px;background:#fff">
<svg class="ic" width="14" height="18" viewBox="0 0 14 18"><defs><linearGradient id="gsell" x1="0" y1="0" x2="0" y2="1"><stop offset="0" stop-color="#fdd9cd"/><stop offset="1" stop-color="#f8ad96"/></linearGradient></defs><path d="M2.9 1.65 H11.1 Q12.35 1.65 12.35 2.9 V12.2 L8.3 16.25 H2.9 Q1.65 16.25 1.65 15 V2.9 Q1.65 1.65 2.9 1.65 Z" fill="#fff" stroke="#e64617" stroke-width="1.2"/><path d="M3.4 3.3 H10.7 V11.1 H8.1 Q6.8 11.1 6.8 12.4 V14.7 H3.4 Z" fill="url(#gsell)"/><path d="M8.5 12.2 H13 L7.9 16.9 V12.8 Q7.9 12.2 8.5 12.2 Z" fill="#e64617"/><path d="M4 5.5 H10 M4 8.5 H10" stroke="#e9582c" stroke-width="1" fill="none"/></svg>
<span class="c l" style="left:21.3px;transform:scaleX(0.8650)">2021.10.11 18:16:30</span>
<span class="c" style="left:132px;width:86px;transform:scaleX(0.9104)">mnqz21</span>
<span class="c" style="left:223px;width:67px;transform:scaleX(0.8633)">147566208</span>
<span class="c" style="left:294px;width:57px;transform:scaleX(0.8720)">sell</span>
<span class="c" style="left:355px;width:97px;transform:scaleX(0.8720)">1</span>
<span class="c" style="left:456px;width:96.7px;transform:scaleX(0.8720)">14814.75</span>
<span class="c" style="left:658px;width:96.7px;transform:scaleX(0.8720)">14790.25</span>
<span class="c" style="left:759px;width:135.2px;transform:scaleX(0.8650)">2021.10.11 18:18:23</span>
<span class="c" style="left:899px;width:97px;transform:scaleX(0.8720)">14809.25</span>
<span class="c" style="left:1000px;width:97px;transform:scaleX(0.8720)">-0.84</span>
<span class="c b" style="left:1101px;width:141px;transform:scaleX(0.8720)">11.00</span>
<span class="c b" style="left:1246px;width:96.4px;transform:scaleX(0.8894)">0.04 %</span>
</div>
<div class="hl" style="top:61px"></div>
<div class="hl" style="top:81px"></div>
<div class="hl" style="top:101px"></div>
<div class="hl" style="top:121px"></div>
<div class="hl" style="top:141px"></div>
<div class="hl" style="top:161px"></div>
<div class="hl" style="top:181px"></div>
<div class="hl" style="top:201px"></div>
<div class="hl" style="top:221px"></div>
<div class="hl" style="top:241px"></div>
<div class="hl" style="top:261px"></div>
<div class="hl" style="top:281px"></div>
<div class="hl" style="top:301px"></div>
<div class="hl" style="top:321px"></div>
<div class="hl" style="top:341px"></div>
<div class="hl" style="top:361px"></div>
<div class="hl" style="top:381px"></div>
<div class="hl" style="top:401px"></div>
<div class="hl" style="top:421px"></div>
<div class="hl" style="top:441px"></div>
<div class="hl" style="top:461px"></div>
<div class="vl" style="left:144px"></div>
<div class="vl" style="left:235px"></div>
<div class="vl" style="left:306px"></div>
<div class="vl" style="left:367px"></div>
<div class="vl" style="left:468px"></div>
<div class="vl" style="left:569px"></div>
<div class="vl" style="left:670px"></div>
<div class="vl" style="left:771px"></div>
<div class="vl" style="left:911px"></div>
<div class="vl" style="left:1012px"></div>
<div class="vl" style="left:1113px"></div>
<div class="vl" style="left:1258px"></div>
<div style="left:771px;top:122px;width:1px;height:19px;background:#efefef"></div>
<div style="left:771px;top:142px;width:1px;height:19px;background:#efefef"></div>
<div style="left:771px;top:162px;width:1px;height:19px;background:#efefef"></div>
<div style="left:771px;top:182px;width:1px;height:19px;background:#efefef"></div>
<div style="left:771px;top:202px;width:1px;height:19px;background:#efefef"></div>
<div style="left:771px;top:242px;width:1px;height:19px;background:#efefef"></div>
<div style="left:771px;top:282px;width:1px;height:19px;background:#efefef"></div>
<div style="left:771px;top:302px;width:1px;height:19px;background:#efefef"></div>
<div style="left:771px;top:342px;width:1px;height:19px;background:#efefef"></div>
<div style="left:670px;top:362px;width:1px;height:19px;background:#dedede"></div>
<div style="left:13px;top:461px;width:1346px;height:21px;background:#c8c8c8"></div>
<svg style="position:absolute;left:14px;top:464px" width="14" height="14" viewBox="0 0 14 14"><circle cx="7" cy="7" r="5.4" fill="#d0d0d0" stroke="#0c0c0c" stroke-width="1.3"/><path d="M4.2 7 H9.8 M7 4.2 V9.8" stroke="#1c1c1c" stroke-width="1.5"/></svg>
<span class="sm l" style="left:34.2px;transform:scaleX(0.934)">Прибыль: 80.16</span>
<span class="sm l" style="left:132.5px;transform:scaleX(0.924)">Кредит: 0.00</span>
<span class="sm l" style="left:209.9px;transform:scaleX(0.941)">Депозит: 0.00</span>
<span class="sm l" style="left:295.4px;transform:scaleX(0.91)">Снятие: 0.00</span>
<span class="sm l" style="left:372.4px;transform:scaleX(0.898)">Баланс: 80.16</span>
<span class="sm" style="left:1013px;width:96px;text-align:right;transform-origin:100% 50%;transform:scaleX(0.967)">-21.84</span>
<span class="sm" style="left:1114px;width:140.7px;text-align:right;transform-origin:100% 50%;transform:scaleX(0.976)">102.00</span>
</body></html>
